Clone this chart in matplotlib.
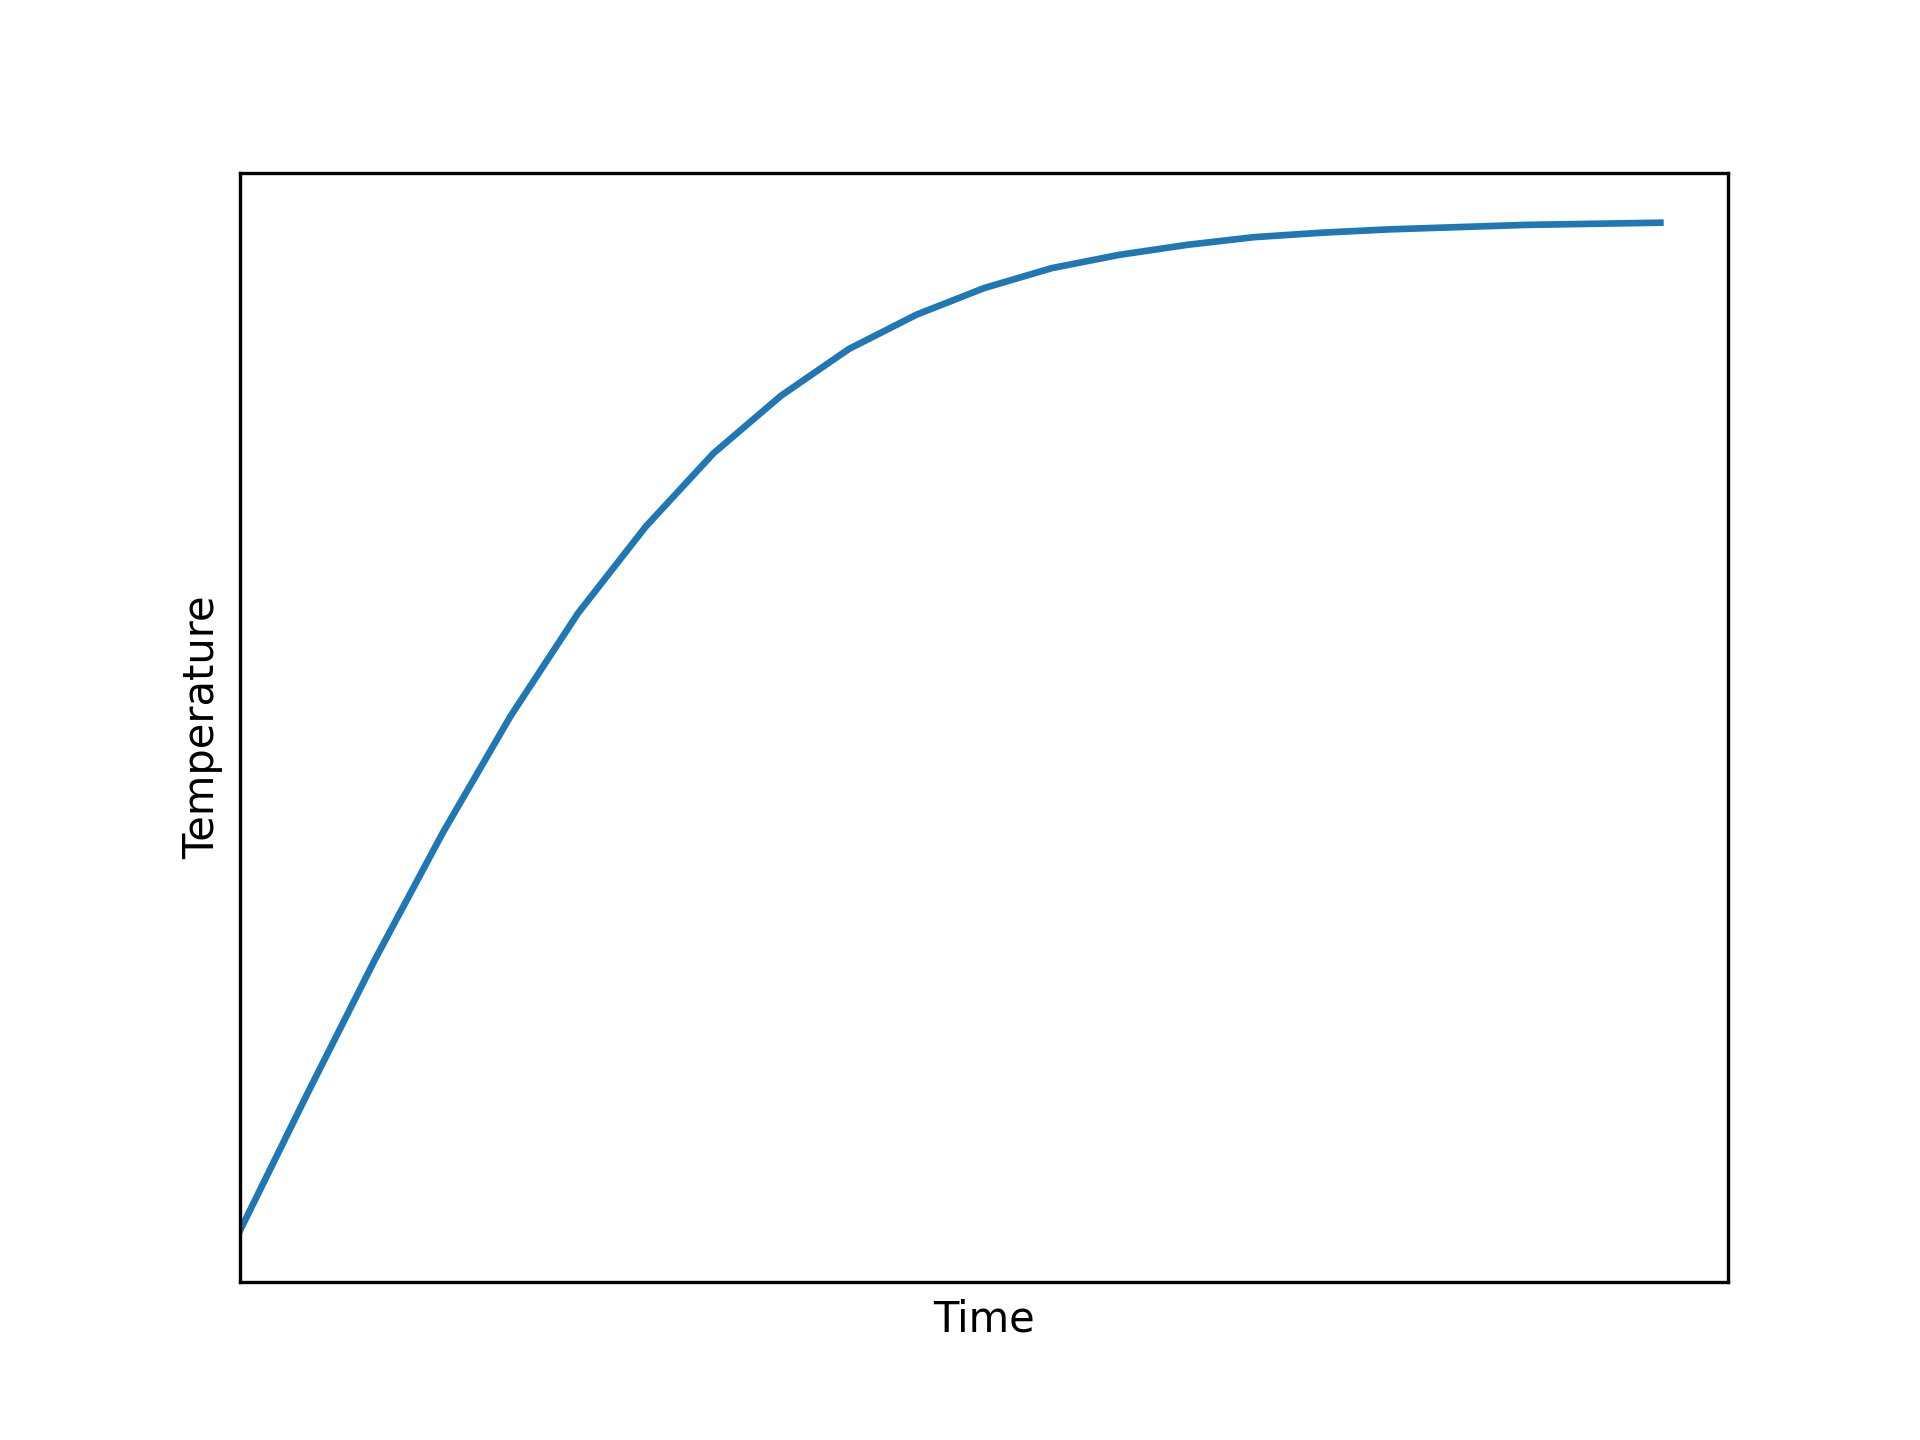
import matplotlib
matplotlib.use("Agg")
import matplotlib.pyplot as plt

time = list(range(22))
temperature = [4.6, 17.0, 29.1, 40.5, 51.0, 60.3, 68.1, 74.7, 79.9, 84.1, 87.2,
               89.6, 91.4, 92.6, 93.5, 94.2, 94.6, 94.9, 95.1, 95.3, 95.4, 95.5]

fig, ax = plt.subplots(figsize=(6.4, 4.8), dpi=300)
ax.plot(time, temperature, color="#1f77b4", linewidth=1.6)
ax.set_xlim(0, 22)
ax.set_ylim(0, 100)
ax.set_xticks([])
ax.set_yticks([])
ax.set_xlabel("Time")
ax.set_ylabel("Temperature")
fig.savefig("out.png", dpi=300)
